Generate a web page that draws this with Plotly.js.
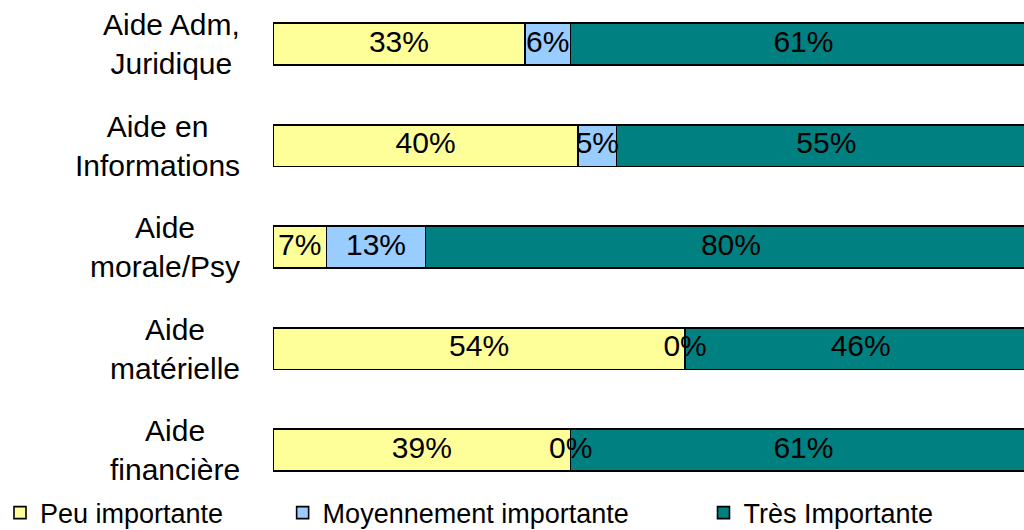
<!DOCTYPE html>
<html>
<head>
<meta charset="utf-8">
<script src="https://cdn.plot.ly/plotly-3.0.1.min.js"></script>
<style>html,body{margin:0;padding:0;background:#fff;}#chart{width:1024px;height:530px;}</style>
</head>
<body>
<div id="chart"></div>
<script>
// Categories, top to bottom
const categories = ['Aide Adm,<br>Juridique', 'Aide en<br>Informations', 'Aide<br>morale/Psy', 'Aide<br>matérielle', 'Aide<br>financière'];
const seriesNames = ['Peu importante', 'Moyennement importante', 'Très Importante'];
const peuImportante = [33, 40, 7, 54, 39];
const moyennementImportante = [6, 5, 13, 0, 0];
const tresImportante = [61, 55, 80, 46, 61];

const seriesValues = [peuImportante, moyennementImportante, tresImportante];
const colors = ['#FFFF99', '#99CCFF', '#008080'];
const FONT = 'Liberation Sans, Arial, sans-serif';
const FS = 30;

const traces = [];
const legendIds = ['legend', 'legend2', 'legend3'];
seriesValues.forEach((vals, i) => {
  traces.push({
    type: 'bar', orientation: 'h', name: seriesNames[i],
    x: vals, y: categories, width: 0.41,
    marker: {color: colors[i], line: {color: '#000', width: 1.6}},
    textposition: 'none', hoverinfo: 'x+name',
    legend: legendIds[i]
  });
});
// value labels centred on each full segment
const cum = categories.map(() => 0);
seriesValues.forEach((vals, i) => {
  const xs = vals.map((v, k) => cum[k] + v / 2);
  vals.forEach((v, k) => { cum[k] += v; });
  traces.push({
    type: 'scatter', mode: 'text', x: xs, y: categories,
    text: vals.map(v => v + '%'), textposition: 'middle center',
    textfont: {family: FONT, size: FS, color: '#000'},
    showlegend: false, hoverinfo: 'skip', cliponaxis: false
  });
});

const annotations = categories.map(c => ({
  xref: 'paper', x: 0, xanchor: 'right', xshift: -31,
  yref: 'y', y: c, yanchor: 'middle',
  text: c, showarrow: false, align: 'center',
  font: {family: FONT, size: FS, color: '#000'}
}));

const legendBase = {
  orientation: 'h', xref: 'container', yref: 'container',
  y: 0.032, yanchor: 'middle', xanchor: 'left',
  font: {family: FONT, size: 27, color: '#000'},
  bgcolor: 'rgba(0,0,0,0)', borderwidth: 0
};

const layout = {
  width: 1024, height: 530,
  margin: {l: 273, r: 0, t: 0, b: 29, autoexpand: false},
  paper_bgcolor: '#fff', plot_bgcolor: '#fff',
  barmode: 'stack', showlegend: true,
  xaxis: {range: [0, 98.4], visible: false, fixedrange: true},
  yaxis: {type: 'category', categoryorder: 'array', categoryarray: categories.slice().reverse(),
          range: [-0.502, 4.434], showticklabels: false, showgrid: false, zeroline: false,
          showline: false, ticks: '', fixedrange: true},
  annotations: annotations,
  legend: Object.assign({}, legendBase, {x: -0.004}),
  legend2: Object.assign({}, legendBase, {x: 0.276}),
  legend3: Object.assign({}, legendBase, {x: 0.687})
};

Plotly.newPlot('chart', traces, layout, {displayModeBar: false, staticPlot: true});
</script>
</body>
</html>
